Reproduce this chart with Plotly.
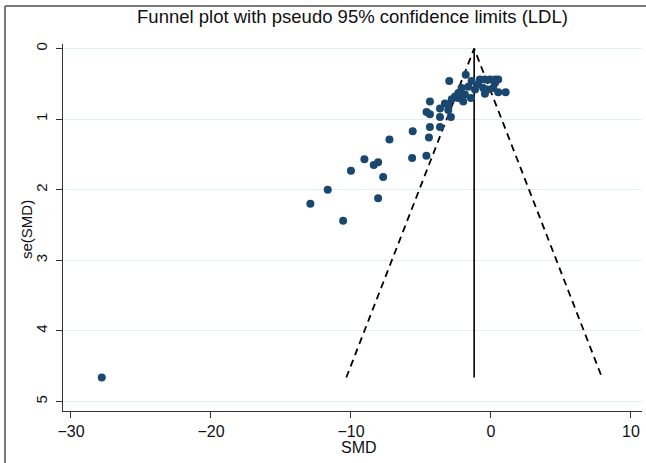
import plotly.graph_objects as go

# Study estimates (standardized mean difference) and their standard errors
smd = [-27.8, -12.9, -11.66, -10.56, -10.0, -9.04, -8.37, -8.06, -7.7, -8.06, -7.25, -5.59, -5.63, -4.61,
       -4.36, -4.6, -4.36, -3.64, -3.29, -3.05, -2.86, -3.64, -3.64, -4.36, -4.43, -2.33,
       -1.8, -2.98, -0.79, -0.43, -0.07, 0.29, 0.52, -0.9, -0.55, -0.24, 0.16, 0.52, 1.05, -0.43, 0.29,
       -1.38, -1.62, -2.1, -2.33, -2.57, -1.86, -1.43, -1.98, -2.8, -3.05, -1.14]
se_smd = [4.66, 2.20, 2.00, 2.44, 1.73, 1.57, 1.65, 1.61, 1.82, 2.12, 1.29, 1.17, 1.55, 1.52,
          0.75, 0.90, 0.93, 0.85, 0.78, 0.87, 0.97, 0.97, 1.11, 1.11, 1.26, 0.70,
          0.37, 0.46, 0.44, 0.44, 0.44, 0.44, 0.44, 0.51, 0.56, 0.58, 0.56, 0.62, 0.62, 0.64, 0.49,
          0.46, 0.54, 0.56, 0.63, 0.68, 0.65, 0.70, 0.75, 0.72, 0.80, 0.58]

pooled_smd = -1.2
funnel_se = [0, 4.66]
z95 = 1.96

x_ticks = [-30, -20, -10, 0, 10]
y_ticks = [0, 1, 2, 3, 4, 5]

title_text = "Funnel plot with pseudo 95% confidence limits (LDL)"
x_title = "SMD"
y_title = "se(SMD)"

FONT = "Liberation Sans, Arial, sans-serif"
NAVY = "#1a476f"
TEXT = "#111"

fig = go.Figure()

# pseudo 95% confidence limits
lower = [pooled_smd - z95 * funnel_se[1], pooled_smd, pooled_smd + z95 * funnel_se[1]]
fig.add_trace(go.Scatter(x=lower, y=[funnel_se[1], funnel_se[0], funnel_se[1]], mode="lines",
                         line=dict(color="black", width=1.8, dash="7px,5px"),
                         hoverinfo="skip", showlegend=False))
# pooled estimate line
fig.add_trace(go.Scatter(x=[pooled_smd, pooled_smd], y=funnel_se, mode="lines",
                         line=dict(color="black", width=1.6), hoverinfo="skip", showlegend=False))
# studies
fig.add_trace(go.Scatter(x=smd, y=se_smd, mode="markers",
                         marker=dict(color=NAVY, size=8, line=dict(width=0)),
                         showlegend=False))

W, H = 646, 463
ml, mr, mt, mb = 63, 4, 44, 52
pw, ph = W - ml - mr, H - mt - mb

fig.update_layout(
    width=W, height=H,
    margin=dict(l=ml, r=mr, t=mt, b=mb, pad=0, autoexpand=False),
    paper_bgcolor="white", plot_bgcolor="white",
    font=dict(family=FONT, size=16, color=TEXT),
    title=dict(text=title_text, x=0.5, xref="paper", xanchor="center",
               y=1 - 17 / H, yref="container", yanchor="middle", automargin=False,
               font=dict(family=FONT, size=18.5, color=TEXT)),
    xaxis=dict(range=[-30.57, 10.79], tickvals=x_ticks, showgrid=False, zeroline=False,
               showline=True, linecolor="#333", linewidth=1, ticks="outside", ticklen=6,
               tickcolor="#333", tickfont=dict(size=16, color=TEXT), automargin=False),
    yaxis=dict(range=[5.134, -0.064], tickvals=y_ticks, showgrid=True, gridcolor="#e3eef1",
               gridwidth=1, zeroline=False, showline=True, linecolor="#333", linewidth=1,
               ticks="outside", ticklen=6, tickcolor="#333", tickangle=-90,
               ticklabelstandoff=3, tickfont=dict(size=15, color=TEXT), automargin=False),
    annotations=[
        dict(text=x_title, xref="paper", yref="paper", x=(359 - ml) / pw,
             y=-(447 - (H - mb)) / ph, showarrow=False, xanchor="center", yanchor="middle",
             font=dict(size=16, color=TEXT)),
        dict(text=y_title, xref="paper", yref="paper", x=(27 - ml) / pw,
             y=(H - mb - 230) / ph, showarrow=False, xanchor="center", yanchor="middle",
             textangle=-90, font=dict(size=15, color=TEXT)),
    ],
    shapes=[
        dict(type="line", xref="paper", yref="paper", x0=(5 - ml) / pw, x1=(5 - ml) / pw,
             y0=(H - mb - 6) / ph, y1=-(H - (H - mb)) / ph - 0.05,
             line=dict(color="#7a7a7a", width=2)),
        dict(type="line", xref="paper", yref="paper", x0=(5 - ml) / pw, x1=1.05,
             y0=(H - mb - 6) / ph, y1=(H - mb - 6) / ph,
             line=dict(color="#7a7a7a", width=2)),
    ],
)

fig.write_html("out.html", config={"displayModeBar": False},
               post_script="document.body.style.margin='0';")
